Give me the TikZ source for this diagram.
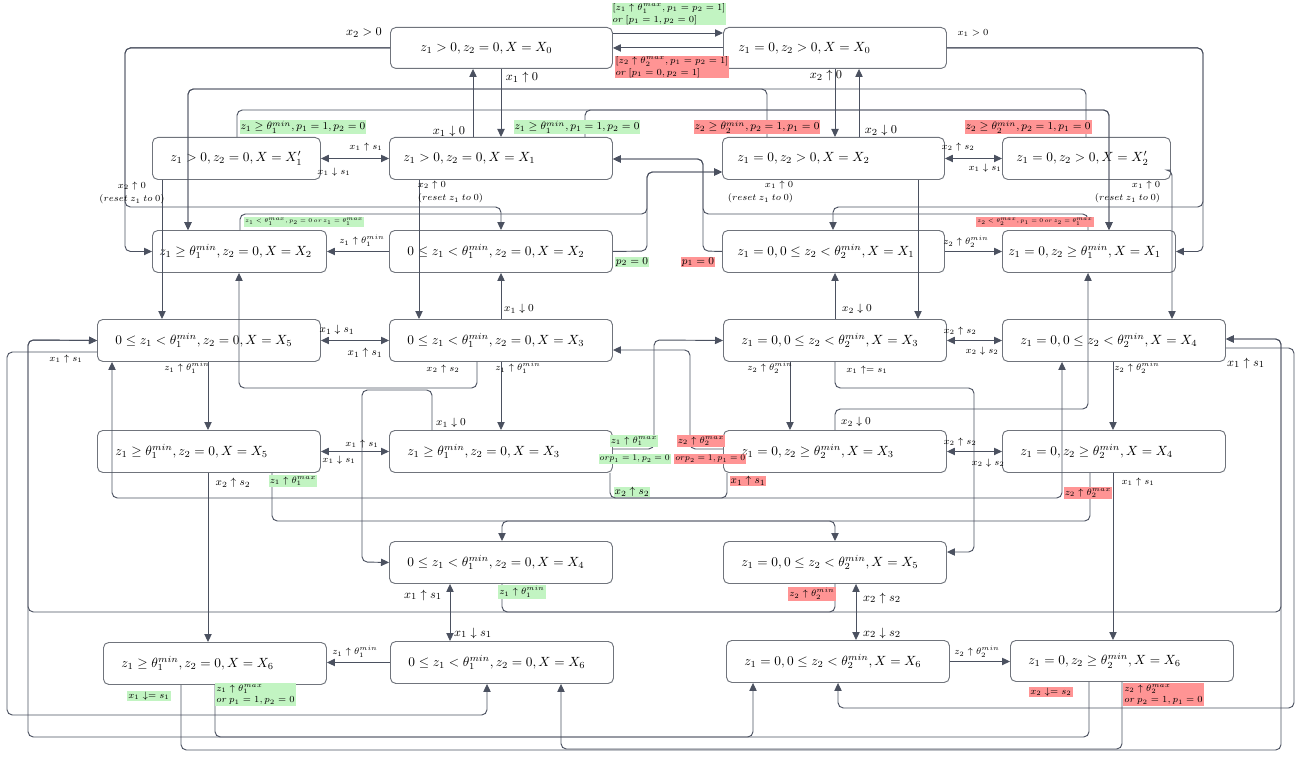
\documentclass[tikz,border=0pt]{standalone}
\usepackage{graphicx}
\usepackage{fontspec}
\setmainfont{Liberation Serif}
\usetikzlibrary{arrows.meta}
\definecolor{lc}{HTML}{4B5160}
\definecolor{bc}{HTML}{70747C}
\definecolor{gfill}{HTML}{C2F4C2}
\definecolor{rfill}{HTML}{FF9494}
\newcommand{\stbox}[7]{%
 \pgfmathsetmacro{\stw}{(#4-#2-2*#6)*0.75}%
 \pgfmathsetmacro{\sth}{(#5-#3)*0.75}%
 \pgfmathsetmacro{\stp}{#6*0.75}%
 \node[box, anchor=north west, text width=\stw pt, inner xsep=\stp pt, inner ysep=0pt, minimum height=\sth pt, align=left] (#1) at (#2,#3) {\mbox{$#7$}};}
\tikzset{
 box/.style={draw=bc, line width=0.7pt, rounded corners=4pt, font=\fontsize{10}{12}\selectfont},
 conn/.style={draw=lc, line width=0.7pt, rounded corners=4pt, -{Triangle[length=6pt,width=5.5pt]}},
 dconn/.style={draw=lc, line width=0.7pt, {Triangle[length=6pt,width=5.5pt]}-{Triangle[length=6pt,width=5.5pt]}},
 blab/.style={inner sep=0.5pt, font=\fontsize{9.5}{11}\selectfont},
 lab/.style={inner sep=0.5pt, font=\fontsize{8.5}{10}\selectfont},
 lab8/.style={inner sep=0.8pt, font=\fontsize{8}{9.5}\selectfont},
 sev/.style={inner sep=0.8pt, font=\fontsize{7.2}{8.6}\selectfont},
 mlab/.style={inner sep=0.5pt, font=\fontsize{7.5}{10}\selectfont},
 slab/.style={inner sep=0.5pt, font=\fontsize{7}{8}\selectfont},
 tny/.style={inner sep=0.8pt, font=\fontsize{5}{6}\selectfont},
 gl/.style={fill=gfill},
 rl/.style={fill=rfill},
}
\begin{document}
\begin{tikzpicture}[x=0.75pt, y=-0.75pt]
\useasboundingbox (0,0) rectangle (1301,756);
% ---------- states ----------
\stbox{A0}{390}{27}{612}{68}{30}{z_1 > 0, z_2 = 0, X = X_0}
\stbox{B0}{723}{27}{946}{68}{15}{z_1 = 0, z_2 > 0, X = X_0}
\stbox{A1p}{152}{137}{320}{179}{18}{z_1 > 0, z_2 = 0, X = X_1'}
\stbox{A1}{389}{137}{612}{179}{14}{z_1 > 0, z_2 = 0, X = X_1}
\stbox{B2}{722}{137}{944}{179}{15}{z_1 = 0, z_2 > 0, X = X_2}
\stbox{B2p}{1002}{137}{1170}{179}{14}{z_1 = 0, z_2 > 0, X = X_2'}
\stbox{A2h}{152}{230}{326}{272}{7}{z_1 \geq \theta_1^{min}, z_2 = 0, X = X_2}
\stbox{A2l}{389}{230}{612}{272}{18}{0 \leq z_1 < \theta_1^{min}, z_2 = 0, X = X_2}
\stbox{B1l}{722}{230}{944}{272}{15}{z_1 = 0, 0 \leq z_2 < \theta_2^{min}, X = X_1}
\stbox{B1h}{1002}{230}{1175}{272}{6}{z_1 = 0, z_2 \geq \theta_1^{min}, X = X_1}
\stbox{A5l}{97}{319}{320}{361}{18}{0 \leq z_1 < \theta_1^{min}, z_2 = 0, X = X_5}
\stbox{A3l}{389}{319}{612}{361}{18}{0 \leq z_1 < \theta_1^{min}, z_2 = 0, X = X_3}
\stbox{B3l}{723}{319}{946}{361}{18}{z_1 = 0, 0 \leq z_2 < \theta_2^{min}, X = X_3}
\stbox{B4l}{1002}{319}{1225}{361}{18}{z_1 = 0, 0 \leq z_2 < \theta_2^{min}, X = X_4}
\stbox{A5h}{97}{430}{320}{472}{18}{z_1 \geq \theta_1^{min}, z_2 = 0, X = X_5}
\stbox{A3h}{389}{430}{612}{472}{18}{z_1 \geq \theta_1^{min}, z_2 = 0, X = X_3}
\stbox{B3h}{723}{430}{946}{472}{18}{z_1 = 0, z_2 \geq \theta_2^{min}, X = X_3}
\stbox{B4h}{1002}{430}{1225}{472}{18}{z_1 = 0, z_2 \geq \theta_2^{min}, X = X_4}
\stbox{A4l}{389}{541}{612}{583}{18}{0 \leq z_1 < \theta_1^{min}, z_2 = 0, X = X_4}
\stbox{B5l}{723}{541}{946}{583}{18}{z_1 = 0, 0 \leq z_2 < \theta_2^{min}, X = X_5}
\stbox{A6h}{103}{642}{326}{684}{18}{z_1 \geq \theta_1^{min}, z_2 = 0, X = X_6}
\stbox{A6l}{390}{641}{613}{683}{18}{0 \leq z_1 < \theta_1^{min}, z_2 = 0, X = X_6}
\stbox{B6l}{726}{640}{949}{682}{18}{z_1 = 0, 0 \leq z_2 < \theta_2^{min}, X = X_6}
\stbox{B6h}{1010}{640}{1233}{681}{18}{z_1 = 0, z_2 \geq \theta_2^{min}, X = X_6}
% ---------- top connectors ----------
\draw[conn] (A0.west) -| (125,207) |- (A2h.west);
\draw[conn] (A0.west) -| (125,207) -| (A2l.north);
\draw[conn] (A0.east |- 0,33) -- (B0.west |- 0,33);
\draw[conn] (B0.west) -- (A0.east);
\draw[conn] (B0.east) -| (1203,207) |- (B1h.east);
\draw[conn] (B0.east) -| (1203,207) -| (B1l.north -| 833,0);
\draw[conn] (A0.south -| 501,0) -- (A1.north -| 501,0);
\draw[conn] (A1.north -| 473,0) -- (A0.south -| 473,0);
\draw[conn] (B0.south -| 835,0) -- (B2.north -| 835,0);
\draw[conn] (B2.north -| 859,0) -- (B0.south -| 859,0);
\draw[dconn] (A1p.east) -- (A1.west);
\draw[dconn] (B2.east) -- (B2p.west);
\draw[conn] (A1p.north -| 237,0) -- (237,110) -- (1109,110) -- (B1h.north -| 1109,0);
\draw[conn] (A1.north -| 585,0) -- (585,110) -- (1109,110) -- (B1h.north -| 1109,0);
\draw[conn] (B2.north -| 767,0) -- (767,89) -- (188,89) -- (A2h.north -| 188,0);
\draw[conn] (B2p.north -| 1086,0) -- (1086,89) -- (188,89) -- (A2h.north -| 188,0);
\draw[conn] (A1p.south -| 162,0) -- (A5l.north -| 162,0);
\draw[conn] (A1.south -| 419,0) -- (A3l.north -| 419,0);
\draw[conn] (B2.south -| 918,0) -- (B3l.north -| 918,0);
\draw[conn] (B2p.east |- 0,170) -| (B4l.north -| 1172,0);
\draw[conn] (A2l.west) -- (A2h.east |- A2l.west);
\draw[conn] (A2l.east) -- (647,251) -- (647,172) -- (B2.west |- 0,172);
\draw[conn] (A2h.north -| 240,0) -- (240,214) -- (647,214) -- (647,172) -- (B2.west |- 0,172);
\draw[conn] (B1l.west) -- (703,251) -- (703,159) -- (A1.east |- 0,159);
\draw[conn] (B1h.north -| 1088,0) -- (1088,214) -- (703,214) -- (703,159) -- (A1.east |- 0,159);
\draw[conn] (B1l.east) -- (B1h.west |- B1l.east);
% ---------- middle connectors ----------
\draw[conn] (A3l.north -| 501,0) -- (A2l.south -| 501,0);
\draw[conn] (B3l.north -| 835,0) -- (B1l.south -| 835,0);
\draw[dconn] (A5l.east) -- (A3l.west);
\draw[conn] (A3l.south -| 501,0) -- (A3h.north -| 501,0);
\draw[conn] (A5l.south -| 208,0) -- (A5h.north -| 208,0);
\draw[dconn] (B3l.east) -- (B4l.west);
\draw[conn] (B3l.south -| 790,0) -- (B3h.north -| 790,0);
\draw[conn] (B4l.south -| 1113,0) -- (B4h.north -| 1113,0);
\draw[dconn] (A5h.east) -- (A3h.west);
\draw[dconn] (B3h.east) -- (B4h.west);
\draw[conn] (A5h.south -| 208,0) -- (A6h.north -| 208,0);
\draw[conn] (B4h.south -| 1113,0) -- (B6h.north -| 1113,0);
\draw[conn] (A3l.south -| 477,0) -- (477,388) -- (239,388) -- (A2h.south -| 239,0);
\draw[conn] (A3h.north -| 432,0) -- (432,390) -- (362,390) -- (362,562) -- (A4l.west);
\draw[conn] (A3h.south -| 610,0) -- (610,498) -- (1062,498) -- (B4l.south -| 1062,0);
\draw[conn] (B3h.south -| 727,0) -- (727,498) -- (112,498) -- (A5l.south -| 112,0);
\draw[conn] (B3l.south -| 835,0) -- (835,388) -- (974,388) -- (974,552) -- (B5l.east |- 0,552);
\draw[conn] (B3h.north -| 835,0) -- (835,409) -- (1088,409) -- (B1h.south -| 1088,0);
\draw[conn] (A5h.south -| 272,0) -- (272,521) -- (835,521) -- (B5l.north -| 835,0);
\draw[conn] (B4h.south -| 1090,0) -- (1090,521) -- (502,521) -- (A4l.north -| 502,0);
\draw[conn] (A3h.east |- 0,449) -- (654,449) -- (654,340) -- (B3l.west);
\draw[conn] (B3h.west |- 0,449) -- (690,449) -- (690,350) -- (A3l.east |- 0,350);
% ---------- bottom connectors ----------
\draw[dconn] (A4l.south -| 450,0) -- (A6l.north -| 450,0);
\draw[dconn] (B5l.south -| 856,0) -- (B6l.north -| 856,0);
\draw[conn] (A6l.west) -- (A6h.east |- A6l.west);
\draw[conn] (B6l.east) -- (B6h.west |- B6l.east);
\draw[conn] (A5l.west |- 0,352) -- (7,352) -- (7,715) -- (487,715) -- (A6l.south -| 487,0);
\draw[conn] (A6h.south -| 215,0) -- (215,737) -- (753,737) -- (B6l.south -| 753,0);
\draw[conn] (B6h.south -| 1089,0) -- (1089,737) -- (28,737) -- (28,340) -- (A5l.west);
\draw[conn] (A6h.south -| 181,0) -- (181,750) -- (1281,750) -- (1281,339) -- (B4l.east |- 0,339);
\draw[conn] (B6h.south -| 1122,0) -- (1122,749) -- (561,749) -- (A6l.south -| 561,0);
\draw[conn] (A4l.south -| 502,0) -- (502,612) -- (1281,612) -- (1281,339) -- (B4l.east |- 0,339);
\draw[conn] (B5l.south -| 835,0) -- (835,612) -- (28,612) -- (28,340) -- (A5l.west);
\draw[conn] (B4l.east |- 0,348) -- (1294,348) -- (1294,708) -- (838,708) -- (B6l.south -| 838,0);
% ---------- labels: top ----------
\node[blab] (l1) at (364,33) {$x_2 > 0$};
\node[inner sep=0.5pt, font=\fontsize{7.5}{9}\selectfont] (l2) at (973,33) {$x_1 > 0$};
\node[gl, sev, align=left] (l3) at (669,14) {$[z_1\uparrow\theta_1^{max}, p_1 = p_2 = 1]$\\$or\ [p_1 = 1, p_2 = 0]$};
\node[rl, sev, align=left] (l4) at (672,67) {$[z_2\uparrow\theta_2^{max}, p_1 = p_2 = 1]$\\$or\ [p_1 = 0, p_2 = 1]$};
\node[blab] (l5) at (522,78) {$x_1\uparrow 0$};
\node[blab] (l6) at (826,76) {$x_2\uparrow 0$};
\node[blab] (l7) at (449,132) {$x_1\downarrow 0$};
\node[blab] (l8) at (881,131) {$x_2\downarrow 0$};
\node[slab] (l9) at (366,147) {$x_1\uparrow s_1$};
\node[slab] (l10) at (334,172) {$x_1\downarrow s_1$};
\node[slab] (l11) at (958,147) {$x_2\uparrow s_2$};
\node[slab] (l12) at (985,168) {$x_1\downarrow s_1$};
\node[gl, lab8] (l13) at (303,127) {$z_1\geq\theta_1^{min}, p_1 = 1, p_2 = 0$};
\node[gl, lab8] (l14) at (577,127) {$z_1\geq\theta_1^{min}, p_1 = 1, p_2 = 0$};
\node[rl, lab8] (l15) at (757,127) {$z_2\geq\theta_2^{min}, p_2 = 1, p_1 = 0$};
\node[rl, lab8] (l16) at (1028,127) {$z_2\geq\theta_2^{min}, p_2 = 1, p_1 = 0$};
\node[mlab, align=center] (l17) at (132,193) {$x_2\uparrow 0$\\$(reset\ z_1\ to\ 0)$};
\node[mlab, align=left, anchor=west] (l18) at (417,192) {$x_2\uparrow 0$\\$(reset\ z_1\ to\ 0)$};
\node[mlab, align=right, anchor=east] (l19) at (794,192) {$x_1\uparrow 0$\\$(reset\ z_1\ to\ 0)$};
\node[mlab, align=right, anchor=east] (l20) at (1161,192) {$x_1\uparrow 0$\\$(reset\ z_1\ to\ 0)$};
\node[gl, tny] (l21) at (304,222) {\scalebox{0.86}{$z_1<\theta_1^{max}, p_2 = 0\ or\ z_1 = \theta_1^{max}$}};
\node[rl, tny] (l22) at (1035,222) {\scalebox{0.84}{$z_2<\theta_2^{max}, p_1 = 0\ or\ z_2 = \theta_1^{max}$}};
\node[slab] (l23) at (362,241) {$z_1\uparrow\theta_1^{min}$};
\node[slab] (l24) at (966,242) {$z_2\uparrow\theta_2^{min}$};
\node[gl, lab] (l25) at (632,262) {$p_2 = 0$};
\node[rl, lab] (l26) at (698,262) {$p_1 = 0$};
% ---------- labels: middle ----------
\node[lab] (l27) at (519,309) {$x_1\downarrow 0$};
\node[lab] (l28) at (857,309) {$x_2\downarrow 0$};
\node[lab] (l29) at (337,330) {$x_1\downarrow s_1$};
\node[lab] (l30) at (365,353) {$x_1\uparrow s_1$};
\node[slab] (l31) at (960,331) {$x_2\uparrow s_2$};
\node[slab] (l32) at (982,351) {$x_2\downarrow s_2$};
\node[slab] (l33) at (66,359) {$x_1\uparrow s_1$};
\node[blab] (l34) at (1246,363) {$x_1\uparrow s_1$};
\node[slab] (l35) at (187,368) {$z_1\uparrow\theta_1^{min}$};
\node[slab] (l36) at (443,369) {$x_2\uparrow s_2$};
\node[sev, inner sep=0.5pt] (l37) at (518,368) {$z_1\uparrow\theta_1^{min}$};
\node[sev, inner sep=0.5pt] (l38) at (770,368) {$z_2\uparrow\theta_2^{min}$};
\node[slab] (l39) at (867,370) {$x_1\uparrow= s_1$};
\node[sev, inner sep=0.5pt] (l40) at (1137,368) {$z_2\uparrow\theta_2^{min}$};
\node[lab] (l41) at (451,423) {$x_1\downarrow 0$};
\node[lab] (l42) at (856,422) {$x_2\downarrow 0$};
\node[slab] (l43) at (362,444) {$x_1\uparrow s_1$};
\node[slab] (l44) at (339,460) {$x_1\downarrow s_1$};
\node[slab] (l45) at (960,442) {$x_2\uparrow s_2$};
\node[slab] (l46) at (988,463) {$x_2\downarrow s_2$};
\node[gl, sev] (l47) at (634,441) {$z_1\uparrow\theta_1^{max}$};
\node[gl, sev, anchor=east] (l48) at (671,459) {\scalebox{0.92}{$or p_1 = 1, p_2 = 0$}};
\node[rl, sev] (l49) at (701,441) {$z_2\uparrow\theta_2^{max}$};
\node[rl, sev, anchor=west] (l50) at (674,459) {\scalebox{0.92}{$or p_2 = 1, p_1 = 0$}};
\node[rl, lab] (l51) at (748,481) {$x_1\uparrow s_1$};
\node[gl, lab] (l52) at (632,492) {$x_2\uparrow s_2$};
\node[lab] (l53) at (233,483) {$x_2\uparrow s_2$};
\node[gl, sev] (l54) at (293,481) {$z_1\uparrow\theta_1^{max}$};
\node[slab] (l55) at (1138,482) {$x_1\uparrow s_1$};
\node[rl, sev] (l56) at (1088,493) {$z_2\uparrow\theta_2^{max}$};
% ---------- labels: bottom ----------
\node[blab] (l57) at (423,595) {$x_1\uparrow s_1$};
\node[blab] (l58) at (473,633) {$x_1\downarrow s_1$};
\node[gl, sev] (l59) at (522,592) {$z_1\uparrow\theta_1^{min}$};
\node[rl, sev] (l60) at (812,594) {$z_2\uparrow\theta_2^{min}$};
\node[blab] (l61) at (882,598) {$x_2\uparrow s_2$};
\node[blab] (l62) at (882,633) {$x_2\downarrow s_2$};
\node[slab] (l63) at (355,652) {$z_1\uparrow\theta_1^{min}$};
\node[slab] (l64) at (977,652) {$z_2\uparrow\theta_2^{min}$};
\node[gl, sev] (l65) at (149,696) {$x_1\downarrow= s_1$};
\node[gl, sev, align=left, anchor=north west] (l66) at (215,683) {$z_1\uparrow\theta_1^{max}$\\$or\ p_1 = 1, p_2 = 0$};
\node[rl, sev] (l67) at (1051,692) {$x_2\downarrow= s_2$};
\node[rl, sev, align=left, anchor=north west] (l68) at (1123,683) {$z_2\uparrow\theta_2^{max}$\\$or\ p_2 = 1, p_1 = 0$};
\end{tikzpicture}
\end{document}
